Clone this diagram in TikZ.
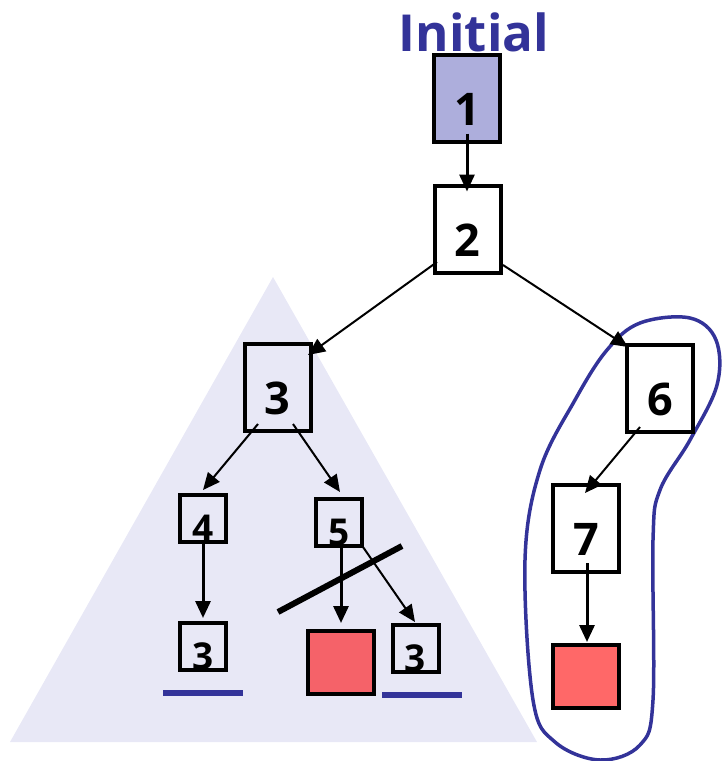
\documentclass[tikz,border=0pt]{standalone}
\usepackage{fontspec}
\setmainfont{Open Sans}
\usetikzlibrary{arrows.meta,calc}
\definecolor{initfill}{RGB}{173,174,220}
\definecolor{treefill}{RGB}{232,232,246}
\definecolor{darkblue}{RGB}{51,51,153}
\definecolor{goalred}{RGB}{245,98,105}
\definecolor{goalredb}{RGB}{255,104,104}
\begin{document}
\begin{tikzpicture}[
    x=1pt,
    y=-1pt,
    bigbox/.style={draw, line width=4pt, inner sep=0pt,
      minimum width=66pt, minimum height=87pt,
      font=\fontsize{45}{45}\selectfont\bfseries,
      text height=54pt, text depth=0pt},
    smallbox/.style={draw, line width=4pt, inner sep=0pt,
      minimum width=46pt, minimum height=47pt,
      font=\fontsize{37}{37}\selectfont\bfseries,
      text height=46pt, text depth=0pt},
    goalbox/.style={draw, line width=4pt, inner sep=0pt,
      minimum width=66pt, minimum height=63pt},
    arr/.style={-{Triangle[length=17pt,width=15pt]}},
    thickarr/.style={arr, line width=3pt},
    thinarr/.style={arr, line width=2pt}
]
\useasboundingbox (0,0) rectangle (721,761);
% search subtree and solution path
\fill[treefill] (273,277) -- (537,742) -- (10,742) -- cycle;
\draw[darkblue, line width=3.5pt] plot[smooth cycle, tension=0.6] coordinates {
  (607,350) (640,323) (690,318) (716,340) (717,385) (690,440)
  (660,490) (653,540) (653,700) (640,745) (600,760) (555,742)
  (533,700) (525,560) (540,470) (575,400)};
% nodes
\node[anchor=base, text=darkblue, font=\fontsize{51}{51}\selectfont\bfseries]
  (init) at (474,51) {Initial};
\node[bigbox, fill=initfill] (n1) at (467,98.5) {1};
\node[bigbox] (n2) at (467.5,229.5) {2};
\node[bigbox] (n3) at (277.5,387) {3};
\node[bigbox] (n6) at (660,388.5) {6};
\node[bigbox] (n7) at (586,528) {7};
\node[goalbox, fill=goalredb] (r2) at (586,676.5) {};
\node[smallbox] (n4) at (203,518) {4};
\node[smallbox] (n5) at (339,522) {5};
\node[smallbox] (n8) at (203,646) {3};
\node[goalbox, fill=goalred] (r1) at (341,662.5) {};
\node[smallbox] (n9) at (415.5,648) {3};
% edges
\draw[thickarr] ($(n1.center)+(0,35)$) -- ($(n2.center)+(-0.5,-38)$);
\draw[thinarr] ($(n2.center)+(-30.5,32.5)$) -- ($(n3.center)+(30.5,-32)$);
\draw[thinarr] ($(n2.center)+(35.5,35.5)$) -- ($(n6.center)+(-32,-41.5)$);
\draw[thinarr] ($(n3.center)+(-19.5,37)$) -- ($(n4.center)+(0,-28)$);
\draw[thinarr] ($(n3.center)+(15.5,37)$) -- ($(n5.center)+(1,-30)$);
\draw[thickarr] ($(n4.center)+(0,25)$) -- ($(n8.center)+(0,-28)$);
\draw[thickarr] ($(n5.center)+(2,26)$) -- ($(r1.center)+(0,-39.5)$);
\draw[thinarr] ($(n5.center)+(24,25)$) -- ($(n9.center)+(-0.5,-26)$);
\draw[thinarr] ($(n6.center)+(-20,38.5)$) -- ($(n7.center)+(-1,-35)$);
\draw[thickarr] ($(n7.center)+(1,35)$) -- ($(r2.center)+(1,-34.5)$);
% cut and marks
\draw[line width=6pt] (278,612) -- (402,546);
\draw[darkblue, line width=6pt] (163,693) -- (243,693);
\draw[darkblue, line width=6pt] (382,695) -- (462,695);
\end{tikzpicture}
\end{document}
